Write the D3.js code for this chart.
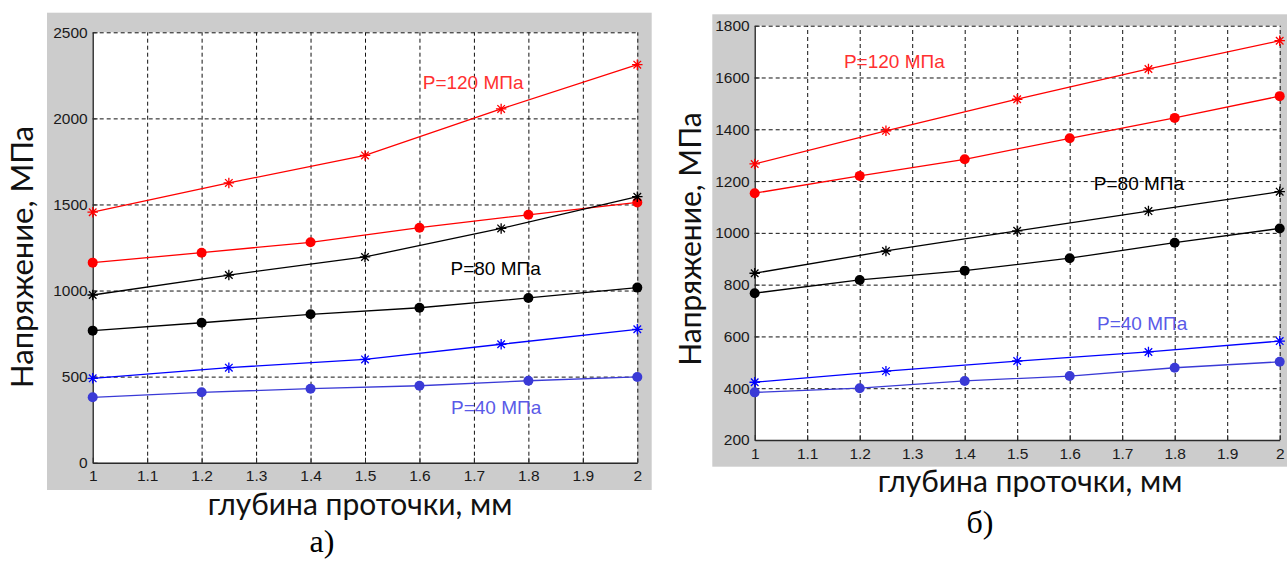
<!DOCTYPE html>
<html>
<head>
<meta charset="utf-8">
<script src="https://cdn.jsdelivr.net/npm/d3@7/dist/d3.min.js"></script>
<style>
  html, body { margin: 0; padding: 0; background: #fff; }
  svg { display: block; }
</style>
</head>
<body>
<svg id="chart" width="1287" height="561"></svg>
<script>
// ---- data ----
// depth of the groove, mm
const xStar = [1, 1.25, 1.5, 1.75, 2];
const xDot = [1, 1.2, 1.4, 1.6, 1.8, 2];

// panel а) stress, MPa
const aRedStar   = [1455, 1625, 1785, 2055, 2312];
const aRedDot    = [1162, 1220, 1280, 1365, 1440, 1512];
const aBlackStar = [974, 1090, 1195, 1361, 1545];
const aBlackDot  = [767, 813, 862, 900, 957, 1017];
const aBlueStar  = [490, 552, 600, 688, 775];
const aBlueDot   = [380, 409, 430, 447, 476, 498];

// panel б) stress, MPa
const bRedStar   = [1266, 1394, 1516, 1633, 1742];
const bRedDot    = [1153, 1220, 1284, 1365, 1444, 1528];
const bBlackStar = [844, 930, 1008, 1084, 1159];
const bBlackDot  = [767, 818, 854, 902, 962, 1017];
const bBlueStar  = [423, 466, 505, 540, 582];
const bBlueDot   = [384, 400, 428, 447, 479, 502];

// ticks
const xTicks = [1, 1.1, 1.2, 1.3, 1.4, 1.5, 1.6, 1.7, 1.8, 1.9, 2];
const xTickLabels = ["1", "1.1", "1.2", "1.3", "1.4", "1.5", "1.6", "1.7", "1.8", "1.9", "2"];
const aYTicks = [0, 500, 1000, 1500, 2000, 2500];
const bYTicks = [200, 400, 600, 800, 1000, 1200, 1400, 1600, 1800];

// text
const yTitle = "Напряжение, МПа";
const xTitle = "глубина проточки, мм";
const seriesLabels = ["P=120 МПа", "P=80 МПа", "P=40 МПа"];
const panelLetters = ["а)", "б)"];

// ---- drawing ----
const svg = d3.select("#chart");

const RED = "#ff0000", BLACK = "#000000", BLUE = "#0000ff", BLUE_DOT = "#3a3ad6";
const LABEL_COLORS = ["#ff3030", "#000000", "#5a5ae8"];

// MATLAB-style '*' marker: a plus overlaid with a cross
const starSymbol = {
  draw(ctx, size) {
    const r = Math.sqrt(size) / 2;
    const d = r * 0.72;
    ctx.moveTo(-r, 0); ctx.lineTo(r, 0);
    ctx.moveTo(0, -r); ctx.lineTo(0, r);
    ctx.moveTo(-d, -d); ctx.lineTo(d, d);
    ctx.moveTo(-d, d); ctx.lineTo(d, -d);
  }
};

function drawPanel(cfg) {
  const g = svg.append("g");

  // grey figure background
  g.append("rect")
    .attr("x", cfg.bg[0]).attr("y", cfg.bg[1])
    .attr("width", cfg.bg[2] - cfg.bg[0]).attr("height", cfg.bg[3] - cfg.bg[1])
    .attr("fill", "#cccccc");

  const x = d3.scaleLinear().domain([1, 2]).range([cfg.left, cfg.right]);
  const y = d3.scaleLinear().domain(cfg.yDomain).range([cfg.bottom, cfg.top]);
  const h = cfg.bottom - cfg.top, w = cfg.right - cfg.left;

  // white plotting area
  g.append("rect")
    .attr("x", cfg.left).attr("y", cfg.top)
    .attr("width", w).attr("height", h)
    .attr("fill", "#ffffff");

  // dashed grid
  const gridX = g.append("g")
    .attr("transform", `translate(0,${cfg.bottom})`)
    .call(d3.axisBottom(x).tickValues(xTicks.slice(1)).tickSize(-h).tickFormat(""));
  const gridY = g.append("g")
    .attr("transform", `translate(${cfg.left},0)`)
    .call(d3.axisLeft(y).tickValues(cfg.yTicks.slice(1)).tickSize(-w).tickFormat(""));
  [gridX, gridY].forEach(gr => {
    gr.select(".domain").remove();
    gr.selectAll(".tick line")
      .attr("stroke", "#111").attr("stroke-width", 1)
      .attr("stroke-dasharray", "4,3");
  });

  // solid axes with inward ticks
  const axX = g.append("g")
    .attr("transform", `translate(0,${cfg.bottom})`)
    .call(d3.axisBottom(x).tickValues(xTicks)
      .tickFormat((d, i) => xTickLabels[i])
      .tickSizeInner(-5).tickSizeOuter(0).tickPadding(cfg.xPad));
  const axY = g.append("g")
    .attr("transform", `translate(${cfg.left},0)`)
    .call(d3.axisLeft(y).tickValues(cfg.yTicks)
      .tickFormat(d3.format("d"))
      .tickSizeInner(-5).tickSizeOuter(0).tickPadding(5));
  [axX, axY].forEach(ax => {
    ax.select(".domain").attr("stroke", "#2a2a2a").attr("stroke-width", 1.4);
    ax.selectAll(".tick line").attr("stroke", "#2a2a2a").attr("stroke-width", 1);
    ax.selectAll(".tick text")
      .attr("fill", "#1a1a1a")
      .style("font-family", "'Liberation Sans', Arial, sans-serif")
      .style("font-size", "15.5px");
  });

  // series
  const line = d3.line().x(d => x(d[0])).y(d => y(d[1]));
  cfg.series.forEach(s => {
    const pts = s.xs.map((xv, i) => [xv, s.ys[i]]);
    g.append("path")
      .datum(pts)
      .attr("d", line)
      .attr("fill", "none")
      .attr("stroke", s.color)
      .attr("stroke-width", 1.3);
    if (s.marker === "dot") {
      g.selectAll(null).data(pts).enter().append("circle")
        .attr("cx", d => x(d[0])).attr("cy", d => y(d[1]))
        .attr("r", 5).attr("fill", s.color);
    } else {
      g.selectAll(null).data(pts).enter().append("path")
        .attr("transform", d => `translate(${x(d[0])},${y(d[1])})`)
        .attr("d", d3.symbol(starSymbol, 110))
        .attr("fill", "none").attr("stroke", s.color).attr("stroke-width", 1.3);
    }
  });

  // series labels
  cfg.labels.forEach((lb, i) => {
    g.append("text")
      .attr("x", x(lb[0])).attr("y", y(lb[1]))
      .attr("dy", "0.35em")
      .attr("fill", LABEL_COLORS[i])
      .style("font-family", "'Liberation Sans', Arial, sans-serif")
      .style("font-size", "19px")
      .text(seriesLabels[i]);
  });

  // axis titles
  g.append("text")
    .attr("transform", `translate(${cfg.yTitlePos[0]},${cfg.yTitlePos[1]}) rotate(-90)`)
    .attr("text-anchor", "middle")
    .attr("fill", "#111")
    .style("font-family", "Lato, 'Open Sans', sans-serif")
    .style("font-size", cfg.yTitleSize + "px")
    .text(yTitle);
  g.append("text")
    .attr("x", cfg.xTitlePos[0]).attr("y", cfg.xTitlePos[1])
    .attr("text-anchor", "middle")
    .attr("fill", "#111")
    .style("font-family", "Lato, 'Open Sans', sans-serif")
    .style("font-size", "30px")
    .text(xTitle);

  // panel letter
  g.append("text")
    .attr("x", cfg.letterPos[0]).attr("y", cfg.letterPos[1])
    .attr("text-anchor", "middle")
    .attr("fill", "#000")
    .style("font-family", "'Liberation Serif', 'Times New Roman', serif")
    .style("font-size", "32px")
    .text(cfg.letter);
}

drawPanel({
  bg: [47, 12.7, 651.7, 490],
  left: 92.7, right: 637.3, top: 32.3, bottom: 462.7,
  yDomain: [0, 2500], yTicks: aYTicks, xPad: 7,
  series: [
    { xs: xStar, ys: aRedStar, color: RED, marker: "star" },
    { xs: xDot, ys: aRedDot, color: RED, marker: "dot" },
    { xs: xStar, ys: aBlackStar, color: BLACK, marker: "star" },
    { xs: xDot, ys: aBlackDot, color: BLACK, marker: "dot" },
    { xs: xStar, ys: aBlueStar, color: BLUE, marker: "star" },
    { xs: xDot, ys: aBlueDot, color: BLUE_DOT, marker: "dot" }
  ],
  labels: [[1.606, 2207], [1.657, 1131], [1.658, 319]],
  yTitlePos: [33, 257], yTitleSize: 31,
  xTitlePos: [360, 515],
  letter: panelLetters[0], letterPos: [322, 552]
});

drawPanel({
  bg: [712.3, 14.3, 1287, 466.7],
  left: 754.7, right: 1279.7, top: 25.7, bottom: 440,
  yDomain: [200, 1800], yTicks: bYTicks, xPad: 8,
  series: [
    { xs: xStar, ys: bRedStar, color: RED, marker: "star" },
    { xs: xDot, ys: bRedDot, color: RED, marker: "dot" },
    { xs: xStar, ys: bBlackStar, color: BLACK, marker: "star" },
    { xs: xDot, ys: bBlackDot, color: BLACK, marker: "dot" },
    { xs: xStar, ys: bBlueStar, color: BLUE, marker: "star" },
    { xs: xDot, ys: bBlueDot, color: BLUE_DOT, marker: "dot" }
  ],
  labels: [[1.170, 1661], [1.646, 1191], [1.652, 651]],
  yTitlePos: [701, 239], yTitleSize: 30,
  xTitlePos: [1030, 492],
  letter: panelLetters[1], letterPos: [980, 533]
});
</script>
</body>
</html>
